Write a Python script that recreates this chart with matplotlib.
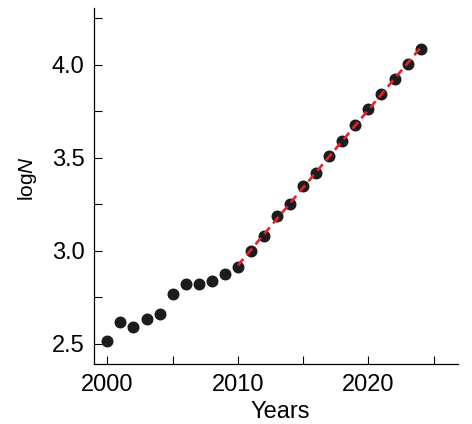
import numpy as np
import matplotlib
matplotlib.use("Agg")
import matplotlib.pyplot as plt
from matplotlib.ticker import MultipleLocator

# data
years = np.arange(2000, 2025)
logN = [2.518, 2.617, 2.593, 2.634, 2.661, 2.769, 2.824, 2.824, 2.840, 2.876,
        2.916, 3.002, 3.079, 3.190, 3.254, 3.349, 3.421, 3.511, 3.590, 3.679,
        3.763, 3.846, 3.925, 4.007, 4.086]
fit_start = 2010

plt.rcParams['font.family'] = ['Liberation Sans', 'DejaVu Sans']
plt.rcParams['mathtext.fontset'] = 'custom'
plt.rcParams['mathtext.it'] = 'Liberation Sans:italic'
plt.rcParams['mathtext.rm'] = 'Liberation Sans'

fig = plt.figure(figsize=(4.72, 4.24), dpi=100)
ax = fig.add_axes([0.1998, 0.1415, 0.7702, 0.8395])

ax.plot(years, logN, 'o', color='#1c1c1c', markersize=7.6, zorder=2)

# linear fit over the later years
sel = years >= fit_start
k, b = np.polyfit(years[sel], np.array(logN)[sel], 1)
xf = years[sel]
ax.plot(xf, k * xf + b, '--', color='#e8202a', lw=1.9, dashes=(3.2, 2.0), zorder=3)

ax.set_xlim(1999.0, 2026.85)
ax.set_ylim(2.392, 4.306)
ax.xaxis.set_major_locator(MultipleLocator(10))
ax.xaxis.set_minor_locator(MultipleLocator(5))
ax.yaxis.set_major_locator(MultipleLocator(0.5))
ax.yaxis.set_minor_locator(MultipleLocator(0.25))
ax.yaxis.set_major_formatter(matplotlib.ticker.FormatStrFormatter('%.1f'))

for s in ['top', 'right']:
    ax.spines[s].set_visible(False)
for s in ['left', 'bottom']:
    ax.spines[s].set_linewidth(0.9)

ax.tick_params(which='both', direction='in', length=6, width=0.8, labelsize=17)
ax.tick_params(axis='y', pad=7)
ax.tick_params(axis='x', pad=7)
ax.set_xlabel('Years', fontsize=17)
ax.set_ylabel('log$N$', fontsize=15)
ax.xaxis.set_label_coords(0.512, -0.105)
ax.yaxis.set_label_coords(-0.152, 0.52)

fig.savefig('out.png', dpi=100)
